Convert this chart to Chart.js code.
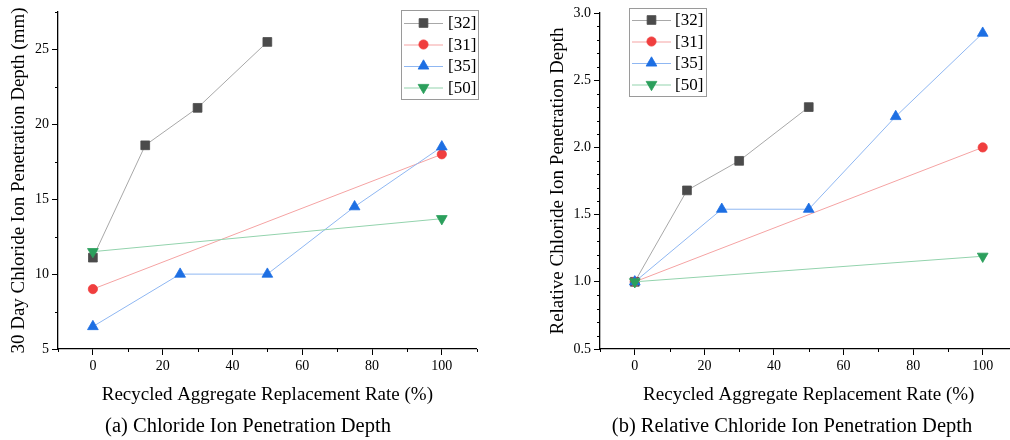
<!DOCTYPE html>
<html>
<head>
<meta charset="utf-8">
<script src="https://cdn.jsdelivr.net/npm/chart.js@4.4.1/dist/chart.umd.min.js"></script>
<style>
  html, body { margin: 0; padding: 0; background: #fff; width: 1010px; height: 440px; overflow: hidden; }
  #wrap { position: relative; width: 1010px; height: 440px; overflow: hidden; }
  canvas { position: absolute; top: 0; }
  .cap { position: absolute; font-family: "Liberation Serif", "Times New Roman", serif; font-size: 20.5px; color: #000; white-space: nowrap; transform: translate(-50%, -50%); }
</style>
</head>
<body>
<div id="wrap">
  <canvas id="c1" width="510" height="440" style="left:0px;width:510px;height:440px"></canvas>
  <canvas id="c2" width="520" height="440" style="left:520px;width:520px;height:440px"></canvas>
  <div class="cap" style="left:248px;top:425px">(a) Chloride Ion Penetration Depth</div>
  <div class="cap" style="left:792px;top:425px">(b) Relative Chloride Ion Penetration Depth</div>
</div>
<script>
// ---------- data ----------
const seriesLabels = ['[32]', '[31]', '[35]', '[50]'];

const rate32 = [0, 15, 30, 50];
const depth32 = [11.1, 18.6, 21.1, 25.5];
const rel32 = [1.0, 1.68, 1.9, 2.3];

const rate31 = [0, 100];
const depth31 = [9.0, 18.0];
const rel31 = [1.0, 2.0];

const rate35 = [0, 25, 50, 75, 100];
const depth35 = [6.5, 10.0, 10.0, 14.5, 18.5];
const rel35 = [1.0, 1.54, 1.54, 2.23, 2.85];

const rate50 = [0, 100];
const depth50 = [11.5, 13.7];
const rel50 = [1.0, 1.19];

const xMajorTicks = [0, 20, 40, 60, 80, 100];
const xMinorTicks = [-10, 10, 30, 50, 70, 90, 110];
const yMajorTicksA = [5, 10, 15, 20, 25];
const yMinorTicksA = [7.5, 12.5, 17.5, 22.5, 27.5];
const yMajorTicksB = [0.5, 1.0, 1.5, 2.0, 2.5, 3.0];
const yMinorTicksB = [0.6, 0.7, 0.8, 0.9, 1.1, 1.2, 1.3, 1.4, 1.6, 1.7, 1.8, 1.9, 2.1, 2.2, 2.3, 2.4, 2.6, 2.7, 2.8, 2.9];

const xTitle = 'Recycled Aggregate Replacement Rate (%)';
const yTitleA = '30 Day Chloride Ion Penetration Depth (mm)';
const yTitleB = 'Relative Chloride Ion Penetration Depth';

// ---------- styles ----------
const FONT = '"Liberation Serif", "Times New Roman", serif';
const styles = [
  { marker: '#4b4b4b', line: '#a8a8a8', pointStyle: 'rect', rotation: 0, radius: 6.2 },
  { marker: '#f03e3e', line: '#f5a3a3', pointStyle: 'circle', rotation: 0, radius: 4.6 },
  { marker: '#1d6fe3', line: '#8fb7f2', pointStyle: 'triangle', rotation: 0, radius: 6.2 },
  { marker: '#2b9f5c', line: '#93d3ad', pointStyle: 'triangle', rotation: 180, radius: 6.2 }
];
const drawOrder = [3, 2, 1, 0];

function pts(xs, ys) { return xs.map((x, i) => ({ x: x, y: ys[i] })); }

function makeDatasets(valueSets) {
  const rates = [rate32, rate31, rate35, rate50];
  return valueSets.map((vals, i) => ({
    label: seriesLabels[i],
    data: pts(rates[i], vals),
    borderColor: styles[i].line,
    backgroundColor: styles[i].marker,
    borderWidth: 1,
    pointStyle: styles[i].pointStyle,
    rotation: styles[i].rotation,
    pointRadius: styles[i].radius,
    pointHoverRadius: styles[i].radius,
    pointBackgroundColor: styles[i].marker,
    pointBorderColor: styles[i].marker,
    pointBorderWidth: 0.8,
    tension: 0,
    fill: false,
    order: drawOrder[i]
  }));
}

// minor ticks plugin
const minorTicksPlugin = {
  id: 'minorTicks',
  afterDraw(chart, args, opts) {
    const ctx = chart.ctx;
    ctx.save();
    ctx.strokeStyle = '#000';
    ctx.lineWidth = 1;
    const xs = chart.scales.x, ys = chart.scales.y;
    ctx.beginPath();
    (opts.x || []).forEach(v => {
      const p = Math.round(xs.getPixelForValue(v)) + 0.5;
      ctx.moveTo(p, xs.top);
      ctx.lineTo(p, xs.top + 3);
    });
    (opts.y || []).forEach(v => {
      const p = Math.round(ys.getPixelForValue(v)) + 0.5;
      ctx.moveTo(ys.right, p);
      ctx.lineTo(ys.right - 3, p);
    });
    ctx.stroke();
    ctx.restore();
  }
};

function drawMarker(ctx, style, rotation, r, x, y, color) {
  ctx.save();
  ctx.fillStyle = color;
  ctx.strokeStyle = color;
  ctx.lineWidth = 0.8;
  ctx.beginPath();
  if (style === 'rect') {
    const h = r * Math.SQRT1_2;
    ctx.rect(x - h, y - h, 2 * h, 2 * h);
  } else if (style === 'circle') {
    ctx.arc(x, y, r, 0, Math.PI * 2);
  } else {
    const rad = rotation * Math.PI / 180;
    for (let k = 0; k < 3; k++) {
      const a = rad + k * 2 * Math.PI / 3;
      const px = x + Math.sin(a) * r, py = y - Math.cos(a) * r;
      if (k === 0) ctx.moveTo(px, py); else ctx.lineTo(px, py);
    }
    ctx.closePath();
  }
  ctx.fill();
  ctx.stroke();
  ctx.restore();
}

// custom legend (line + marker) plugin
const lineLegendPlugin = {
  id: 'lineLegend',
  afterDraw(chart, args, o) {
    const ctx = chart.ctx;
    ctx.save();
    ctx.strokeStyle = '#9a9a9a';
    ctx.lineWidth = 1;
    ctx.strokeRect(o.x + 0.5, o.y + 0.5, o.w, o.h);
    chart.data.datasets.forEach((ds, i) => {
      const cy = o.row0 + i * o.rowGap;
      ctx.strokeStyle = ds.borderColor;
      ctx.lineWidth = 1;
      ctx.beginPath();
      ctx.moveTo(o.x + o.lineStart, cy + 0.5);
      ctx.lineTo(o.x + o.lineEnd, cy + 0.5);
      ctx.stroke();
      drawMarker(ctx, ds.pointStyle, ds.rotation, ds.pointRadius, o.x + (o.lineStart + o.lineEnd) / 2, cy, ds.pointBackgroundColor);
      ctx.fillStyle = '#000';
      ctx.font = o.fontSize + 'px ' + FONT;
      ctx.textBaseline = 'middle';
      ctx.textAlign = 'left';
      ctx.fillText(ds.label, o.x + o.textX, cy + 1);
    });
    ctx.restore();
  }
};

function makeChart(canvasId, datasets, cfg) {
  return new Chart(document.getElementById(canvasId), {
    type: 'line',
    data: { datasets: datasets },
    plugins: [minorTicksPlugin, lineLegendPlugin],
    options: {
      responsive: false,
      animation: false,
      devicePixelRatio: 1,
      layout: { padding: { left: 0, top: cfg.padTop, right: cfg.padRight, bottom: 0 } },
      plugins: {
        legend: { display: false },
        tooltip: { enabled: false },
        minorTicks: { x: xMinorTicks, y: cfg.yMinor },
        lineLegend: cfg.legend
      },
      scales: {
        x: {
          type: 'linear',
          min: -10, max: 110,
          afterBuildTicks(s) { s.ticks = xMajorTicks.map(v => ({ value: v })); },
          afterFit(s) { s.height = 91; },
          grid: { display: true, drawOnChartArea: false, drawTicks: true, tickLength: 6, tickColor: '#000', tickWidth: 1 },
          border: { display: true, color: '#000', width: 1.3 },
          ticks: { color: '#000', font: { family: FONT, size: 14 }, padding: 3, maxRotation: 0, autoSkip: false,
                   callback: v => String(v) },
          title: { display: true, text: xTitle, color: '#000', font: { family: FONT, size: 19 }, padding: { top: 0, bottom: 33.5 } }
        },
        y: {
          type: 'linear',
          min: cfg.yMin, max: cfg.yMax,
          afterBuildTicks(s) { s.ticks = cfg.yMajor.map(v => ({ value: v })); },
          afterFit(s) { s.width = cfg.yWidth; },
          grid: { display: true, drawOnChartArea: false, drawTicks: true, tickLength: 6, tickColor: '#000', tickWidth: 1 },
          border: { display: true, color: '#000', width: 1.3 },
          ticks: { color: '#000', font: { family: FONT, size: 14 }, padding: 3, autoSkip: false,
                   callback: cfg.yFmt },
          title: { display: true, text: cfg.yTitle, color: '#000', font: { family: FONT, size: 19 }, padding: { top: cfg.yTitlePad, bottom: 0 } }
        }
      }
    }
  });
}

makeChart('c1', makeDatasets([depth32, depth31, depth35, depth50]), {
  padTop: 12, padRight: 33.3, yWidth: 58, yMin: 5, yMax: 27.5,
  yMajor: yMajorTicksA, yMinor: yMinorTicksA, yFmt: v => String(v),
  yTitle: yTitleA, yTitlePad: 7.5,
  legend: { x: 401, y: 10, w: 77, h: 89, row0: 23, rowGap: 21.5, lineStart: 3, lineEnd: 42, textX: 47, fontSize: 17 }
});

makeChart('c2', makeDatasets([rel32, rel31, rel35, rel50]), {
  padTop: 13, padRight: 22.5, yWidth: 80, yMin: 0.5, yMax: 3.0,
  yMajor: yMajorTicksB, yMinor: yMinorTicksB, yFmt: v => Number(v).toFixed(1),
  yTitle: yTitleB, yTitlePad: 26.5,
  legend: { x: 109, y: 8, w: 77, h: 88, row0: 20, rowGap: 21.5, lineStart: 3, lineEnd: 42, textX: 46, fontSize: 17 }
});
</script>
</body>
</html>
